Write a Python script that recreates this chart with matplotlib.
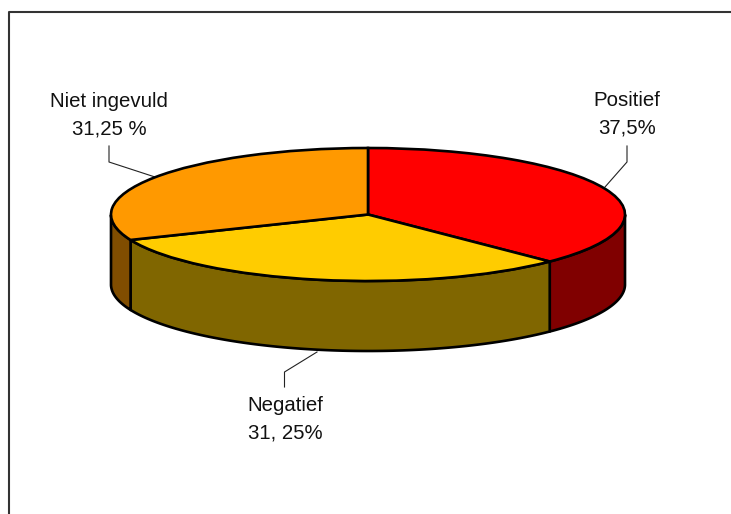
import numpy as np
import matplotlib as mpl
mpl.use('Agg')
import matplotlib.pyplot as plt
from matplotlib.patches import Polygon

plt.rcParams['font.family'] = ['Liberation Sans', 'DejaVu Sans']

labels = ['Positief\n37,5%', 'Negatief\n31, 25%', 'Niet ingevuld\n31,25 %']
values = [37.5, 31.25, 31.25]
top_colors = ['#ff0000', '#ffcc00', '#ff9900']
side_colors = ['#800000', '#806600', '#804d00']

W, H = 731, 514
CX, CY = 368, 214.5      # centre of the top face, pixels
RX, RY = 257, 66.5
DEPTH = 70

fig = plt.figure(figsize=(W / 100, H / 100), dpi=100)

# whole figure in pixel coords, y pointing down
bg = fig.add_axes([0, 0, 1, 1])
bg.set_xlim(0, W)
bg.set_ylim(H, 0)
bg.axis('off')
bg.plot([9, 9, W], [H, 12, 12], color='#333333', lw=1.5, solid_capstyle='butt')

# side wall first, the squashed pie goes on top of it
angles = 90 - np.cumsum([0] + values) * 3.6
for i in range(len(values)):
    t = np.radians(np.linspace(angles[i + 1], angles[i], 200))
    # only the front half of the rim can be seen
    t = t[np.sin(t) <= 0]
    if len(t) < 2:
        continue
    x = CX + RX * np.cos(t)
    y = CY - RY * np.sin(t)
    pts = np.vstack([np.c_[x, y], np.c_[x, y + DEPTH][::-1]])
    bg.add_patch(Polygon(pts, closed=True, facecolor=side_colors[i],
                         edgecolor='black', lw=1.9, joinstyle='round'))

# top face: a normal pie, axes stretched so that it turns into an ellipse
pie_ax = fig.add_axes([(CX - RX) / W, 1 - (CY + RY) / H, 2 * RX / W, 2 * RY / H])
pie_ax.patch.set_alpha(0)
pie_ax.pie(values, colors=top_colors, startangle=90, counterclock=False, radius=1,
           wedgeprops={'edgecolor': 'black', 'linewidth': 1.9})
pie_ax.set_aspect('auto')
pie_ax.set_xlim(-1, 1)
pie_ax.set_ylim(-1, 1)
for w in pie_ax.patches:
    w.set_clip_on(False)

# leader lines
bg.plot([627, 627, 605], [146, 162, 187], color='#222222', lw=0.8)
bg.plot([284.5, 284.5, 317], [387, 372, 352], color='#222222', lw=0.8)
bg.plot([109, 109, 155], [146, 162, 177], color='#222222', lw=0.8)

bg.text(627, 114, labels[0], ha='center', va='center', fontsize=14.7, color='#111111', linespacing=1.55)
bg.text(285, 419, labels[1], ha='center', va='center', fontsize=14.7, color='#111111', linespacing=1.55)
bg.text(109, 115, labels[2], ha='center', va='center', fontsize=14.7, color='#111111', linespacing=1.55)

fig.savefig('out.png', dpi=100)
